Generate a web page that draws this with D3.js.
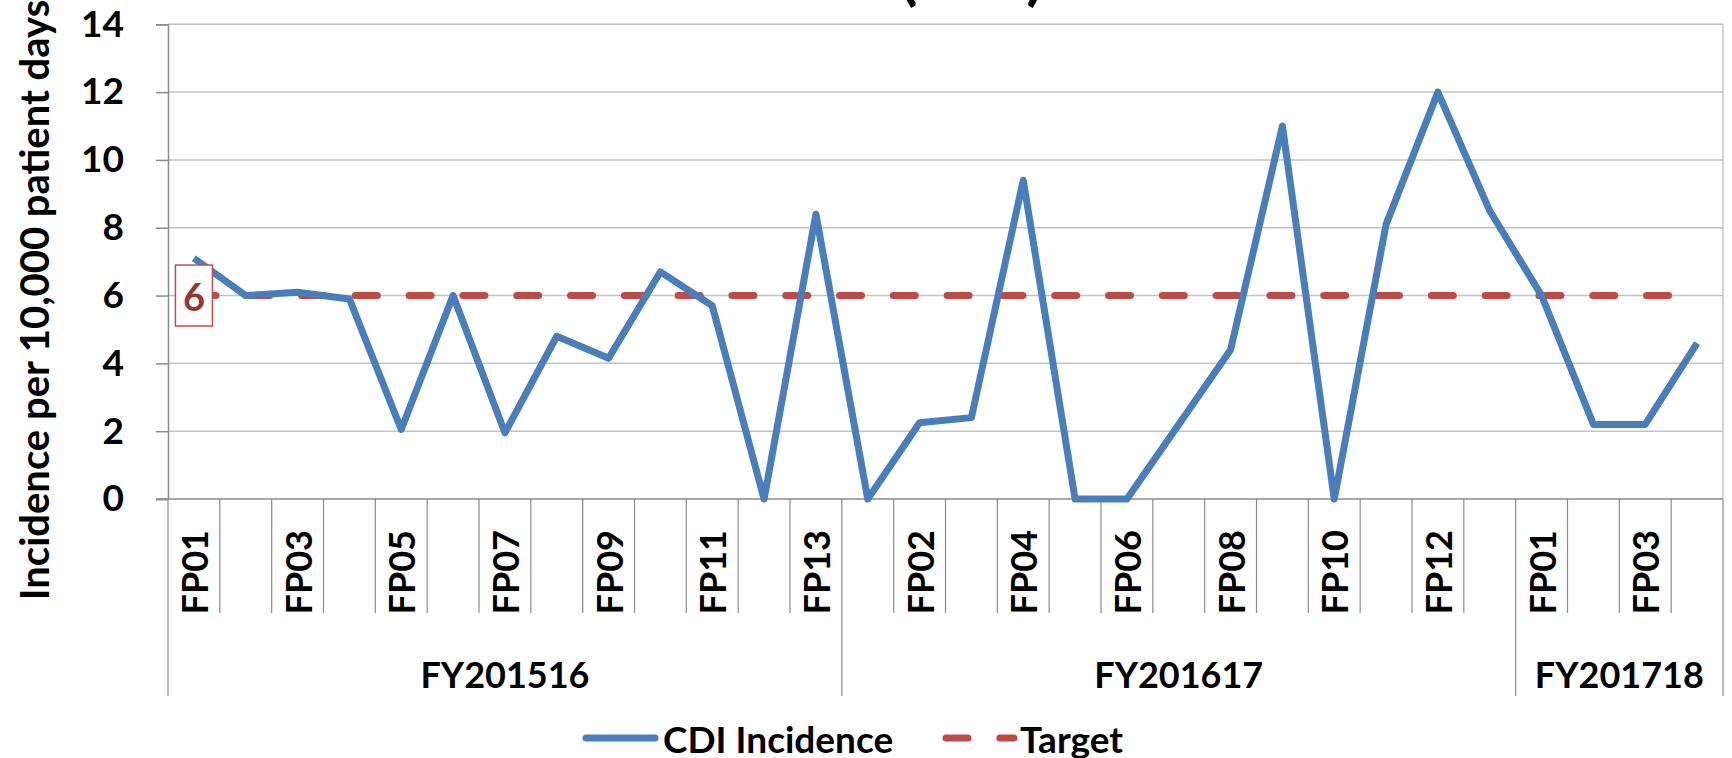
<!DOCTYPE html>
<html>
<head>
<meta charset="utf-8">
<title>CDI Incidence</title>
<script src="https://d3js.org/d3.v7.min.js"></script>
<style>
  body { margin: 0; background: #fff; }
  svg { display: block; font-family: Lato, "Open Sans", sans-serif; font-weight: bold; }
</style>
</head>
<body>
<svg id="chart" width="1732" height="758"></svg>
<script>
// financial years and their periods
var years = ["FY201516", "FY201617", "FY201718"];
var periods = [
  ["FP01","FP02","FP03","FP04","FP05","FP06","FP07","FP08","FP09","FP10","FP11","FP12","FP13"],
  ["FP01","FP02","FP03","FP04","FP05","FP06","FP07","FP08","FP09","FP10","FP11","FP12","FP13"],
  ["FP01","FP02","FP03","FP04"]
];
// CDI incidence per 10,000 patient days
var cdi = [7.1, 6.0, 6.1, 5.9, 2.05, 6.0, 1.95, 4.8, 4.15, 6.7, 5.7, 0, 8.4,
           0, 2.25, 2.4, 9.4, 0, 0, 2.2, 4.4, 11.0, 0, 8.1, 12.0, 8.5,
           6.0, 2.2, 2.2, 4.6];
var target = [6, 6, 6, 6, 6, 6, 6, 6, 6, 6, 6, 6, 6,
              6, 6, 6, 6, 6, 6, 6, 6, 6, 6, 6, 6, 6,
              6, 6, 6, 6];
var yTicks = [0, 2, 4, 6, 8, 10, 12, 14];

var blue = "#4a7ebb", red = "#be4b48", grid = "#c4c4c4", axisCol = "#8c8c8c";

// flatten categories
var cats = [];
years.forEach(function(yr, gi) {
  periods[gi].forEach(function(p) { cats.push({key: yr + "|" + p, year: yr, fp: p}); });
});

var svg = d3.select("#chart");
var plotL = 168, plotR = 1723, plotT = 24.3, plotB = 499;

var x = d3.scaleBand().domain(cats.map(function(c){return c.key;})).range([plotL, plotR]);
var y = d3.scaleLinear().domain([0, 14]).range([plotB, plotT]);
var cx = function(i) { return x(cats[i].key) + x.bandwidth() / 2; };

// cut-off title (only the bottom of the brackets shows)
svg.append("text")
  .attr("x", 972).attr("y", -2)
  .attr("text-anchor", "middle")
  .attr("font-size", 64)
  .text("(CDI)");

// gridlines
svg.append("g").selectAll("line").data(yTicks.filter(function(t){return t > 0;}))
  .enter().append("line")
  .attr("x1", plotL).attr("x2", plotR)
  .attr("y1", function(t){return y(t);}).attr("y2", function(t){return y(t);})
  .attr("stroke", grid).attr("stroke-width", 1.5);

// right border of plot area
svg.append("line").attr("x1", plotR).attr("x2", plotR).attr("y1", plotT).attr("y2", plotB)
  .attr("stroke", grid).attr("stroke-width", 1.5);

// y axis
var yAxis = d3.axisLeft(y).tickValues(yTicks).tickSize(12).tickPadding(32);
var gy = svg.append("g").attr("transform", "translate(" + plotL + ",0)").call(yAxis);
gy.select(".domain").attr("stroke", axisCol).attr("stroke-width", 1.5);
gy.selectAll(".tick line").attr("stroke", axisCol).attr("stroke-width", 1.5);
gy.selectAll(".tick text").attr("font-size", 37).attr("font-family", "Lato, sans-serif")
  .attr("font-weight", "bold").attr("fill", "#000");

// x axis line
svg.append("line").attr("x1", plotL - 12).attr("x2", plotR).attr("y1", plotB).attr("y2", plotB)
  .attr("stroke", axisCol).attr("stroke-width", 1.5);

// category separators
var bounds = cats.map(function(c){return x(c.key);}).concat([plotR]);
var groupStarts = [0, 13, 26, 30];
svg.append("g").selectAll("line").data(bounds).enter().append("line")
  .attr("x1", function(d){return d;}).attr("x2", function(d){return d;})
  .attr("y1", plotB)
  .attr("y2", function(d, i){return groupStarts.indexOf(i) >= 0 ? 696 : 613;})
  .attr("stroke", axisCol).attr("stroke-width", 1.2);

// period labels (every other one)
svg.append("g").selectAll("text").data(cats).enter()
  .filter(function(d, i){return i % 2 === 0;})
  .append("text")
  .attr("transform", function(d){
    var i = cats.indexOf(d);
    return "translate(" + cx(i) + ",530) rotate(-90)";
  })
  .attr("text-anchor", "end")
  .attr("dominant-baseline", "central")
  .attr("font-size", 36)
  .text(function(d){return d.fp;});

// year labels
svg.append("g").selectAll("text").data(years).enter().append("text")
  .attr("x", function(d, gi){
    var a = bounds[groupStarts[gi]], b = bounds[groupStarts[gi + 1]];
    return (a + b) / 2;
  })
  .attr("y", 674)
  .attr("text-anchor", "middle")
  .attr("dominant-baseline", "central")
  .attr("font-size", 36)
  .text(function(d){return d;});

// y axis title
svg.append("text")
  .attr("transform", "translate(34,300) rotate(-90)")
  .attr("text-anchor", "middle")
  .attr("dominant-baseline", "central")
  .attr("font-size", 40)
  .text("Incidence per 10,000 patient days");

// series
var line = d3.line().x(function(d, i){return cx(i);}).y(function(d){return y(d);});

svg.append("path").datum(target)
  .attr("d", line)
  .attr("fill", "none").attr("stroke", red).attr("stroke-width", 7)
  .attr("stroke-linecap", "round")
  .attr("stroke-dasharray", "22,31.8");

svg.append("path").datum(cdi)
  .attr("d", line)
  .attr("fill", "none").attr("stroke", blue).attr("stroke-width", 7)
  .attr("stroke-linejoin", "round");

// data label for the target
var lab = svg.append("g").attr("transform", "translate(" + cx(0) + "," + y(target[0]) + ")");
lab.append("rect").attr("x", -18.5).attr("y", -30.5).attr("width", 37).attr("height", 61)
  .attr("fill", "#fff").attr("stroke", "#c0504d").attr("stroke-width", 1.5);
lab.append("text").attr("text-anchor", "middle").attr("dominant-baseline", "central")
  .attr("font-size", 38).attr("fill", "#953735").text(target[0]);

// legend
var lg = svg.append("g");
lg.append("line").attr("x1", 586).attr("x2", 655).attr("y1", 738).attr("y2", 738)
  .attr("stroke", blue).attr("stroke-width", 7).attr("stroke-linecap", "round");
lg.append("text").attr("x", 663).attr("y", 738).attr("dominant-baseline", "central")
  .attr("font-size", 37).text("CDI Incidence");
lg.append("line").attr("x1", 946).attr("x2", 1014).attr("y1", 738).attr("y2", 738)
  .attr("stroke", red).attr("stroke-width", 7).attr("stroke-linecap", "round")
  .attr("stroke-dasharray", "22,31.8");
lg.append("text").attr("x", 1020).attr("y", 738).attr("dominant-baseline", "central")
  .attr("font-size", 37).text("Target");
</script>
</body>
</html>
